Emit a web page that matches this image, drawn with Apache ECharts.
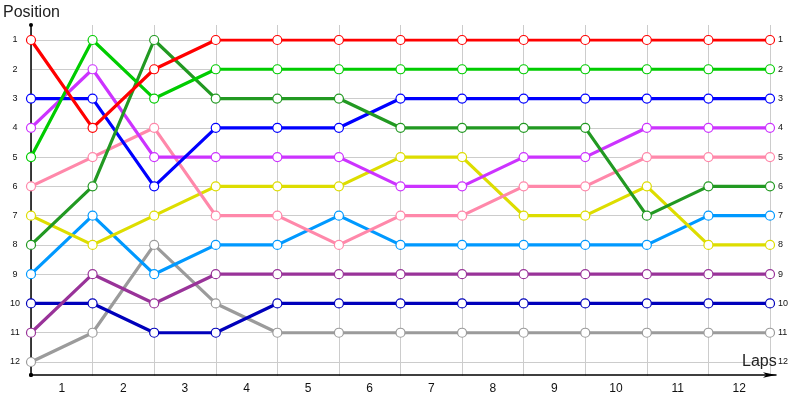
<!DOCTYPE html>
<html>
<head>
<meta charset="utf-8">
<script src="https://cdn.jsdelivr.net/npm/echarts@6/dist/echarts.min.js"></script>
<style>html,body{margin:0;padding:0;background:#fff}#c{width:800px;height:400px}</style>
</head>
<body>
<div id="c"></div>
<script>
const lapLabels = ['1','2','3','4','5','6','7','8','9','10','11','12'];
const positionLabels = [1,2,3,4,5,6,7,8,9,10,11,12];
const laps = [0,1,2,3,4,5,6,7,8,9,10,11,12];

const red       = [1,4,2,1,1,1,1,1,1,1,1,1,1];
const green     = [5,1,3,2,2,2,2,2,2,2,2,2,2];
const blue      = [3,3,6,4,4,4,3,3,3,3,3,3,3];
const magenta   = [4,2,5,5,5,5,6,6,5,5,4,4,4];
const pink      = [6,5,4,7,7,8,7,7,6,6,5,5,5];
const yellow    = [7,8,7,6,6,6,5,5,7,7,6,8,8];
const darkGreen = [8,6,1,3,3,3,4,4,4,4,7,6,6];
const lightBlue = [9,7,9,8,8,7,8,8,8,8,8,7,7];
const purple    = [11,9,10,9,9,9,9,9,9,9,9,9,9];
const darkBlue  = [10,10,11,11,10,10,10,10,10,10,10,10,10];
const gray      = [12,11,8,10,11,11,11,11,11,11,11,11,11];

const seriesDefs = [
  ['Gray', gray, '#9b9b9b'],
  ['Dark blue', darkBlue, '#0000bb'],
  ['Purple', purple, '#993399'],
  ['Light blue', lightBlue, '#0099ff'],
  ['Yellow', yellow, '#dddd00'],
  ['Pink', pink, '#ff88aa'],
  ['Magenta', magenta, '#cc33ff'],
  ['Blue', blue, '#0000ff'],
  ['Dark green', darkGreen, '#229922'],
  ['Green', green, '#00cc00'],
  ['Red', red, '#ff0000']
];

const font = 'Liberation Sans';
const chart = echarts.init(document.getElementById('c'));
chart.setOption({
  animation: false,
  backgroundColor: '#fff',
  title: [
    {text: 'Position', left: 3, top: 5, padding: 0,
     textStyle: {fontSize: 16, fontWeight: 'normal', fontFamily: font, color: '#222'}},
    {text: 'Laps', left: 742, top: 354, padding: 0,
     textStyle: {fontSize: 16, fontWeight: 'normal', fontFamily: font, color: '#222'}}
  ],
  grid: [
    {left: 31, right: 30, top: 40, bottom: 38},
    {left: 31, right: 30, top: 25, bottom: 24},
    {left: 31, right: 24, top: 25, bottom: 25}
  ],
  xAxis: [
    {gridIndex: 0, type: 'value', position: 'top', min: 0, max: 12, interval: 1,
     axisLine: {show: false}, axisTick: {show: false}, axisLabel: {show: false}, splitLine: {show: false}},
    {gridIndex: 0, type: 'category', position: 'bottom', data: lapLabels, boundaryGap: true,
     axisLine: {show: false}, axisTick: {show: false}, splitLine: {show: false},
     axisLabel: {margin: 21, fontSize: 12, fontFamily: font, color: '#111'}},
    {gridIndex: 1, type: 'value', min: 0, max: 12, interval: 1,
     axisLine: {show: false}, axisTick: {show: false}, axisLabel: {show: false},
     splitLine: {show: true, lineStyle: {color: '#cccccc', width: 1}}},
    {gridIndex: 2, type: 'value', position: 'bottom', min: 0, max: 1,
     axisLine: {show: true, onZero: false, symbol: ['circle', 'arrow'], symbolSize: [4, 13],
                lineStyle: {color: '#000', width: 1.5}},
     axisTick: {show: false}, axisLabel: {show: false}, splitLine: {show: false}}
  ],
  yAxis: [
    {gridIndex: 0, type: 'value', position: 'left', min: 1, max: 12, interval: 1, inverse: true,
     axisLine: {show: false}, axisTick: {show: false},
     axisLabel: {margin: 16, align: 'center', fontSize: 9, fontFamily: font, color: '#111'},
     splitLine: {show: true, lineStyle: {color: '#cccccc', width: 1}}},
    {gridIndex: 0, type: 'value', position: 'right', min: 1, max: 12, interval: 1, inverse: true,
     axisLine: {show: false}, axisTick: {show: false},
     axisLabel: {margin: 8, fontSize: 9, fontFamily: font, color: '#111'},
     splitLine: {show: false}},
    {gridIndex: 1, type: 'value', min: 0, max: 1,
     axisLine: {show: false}, axisTick: {show: false}, axisLabel: {show: false}, splitLine: {show: false}},
    {gridIndex: 2, type: 'value', position: 'left', min: 0, max: 1,
     axisLine: {show: true, onZero: false, symbol: ['circle', 'circle'], symbolSize: [4, 4],
                lineStyle: {color: '#000', width: 1.5}},
     axisTick: {show: false}, axisLabel: {show: false}, splitLine: {show: false}}
  ],
  series: seriesDefs.map(([name, vals, color]) => ({
    name: name,
    type: 'line',
    xAxisIndex: 0,
    yAxisIndex: 0,
    data: laps.map((l, i) => [l, vals[i]]),
    symbol: 'circle',
    symbolSize: 9,
    showAllSymbol: true,
    lineStyle: {color: color, width: 3.2},
    itemStyle: {color: '#fff', borderColor: color, borderWidth: 1.2},
    z: 3
  }))
});
</script>
</body>
</html>
